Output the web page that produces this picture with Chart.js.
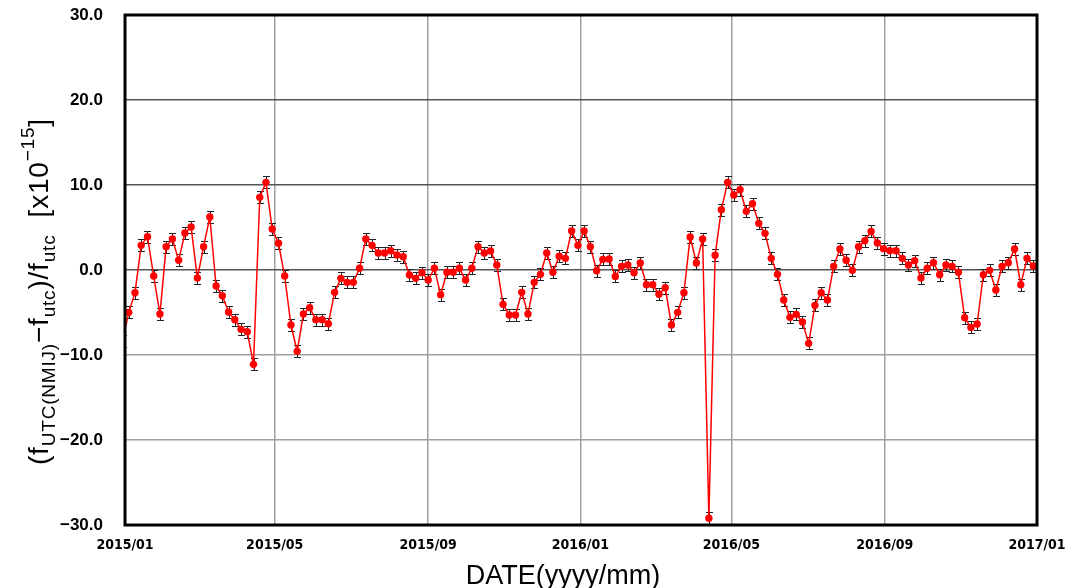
<!DOCTYPE html>
<html>
<head>
<meta charset="utf-8">
<script src="https://cdn.jsdelivr.net/npm/chart.js@4.4.0/dist/chart.umd.min.js"></script>
<style>
  html, body { margin: 0; padding: 0; background: #fff; }
</style>
</head>
<body>
<canvas id="myChart" width="1067" height="588"></canvas>
<script>
// sampling dates (MJD), five-day steps
const mjd = [
  57021,
  57026, 57031, 57036, 57041, 57046, 57051, 57056, 57061, 57066, 57071,
  57076, 57081, 57086, 57091, 57096, 57101, 57106, 57111, 57116, 57121,
  57126, 57131, 57136, 57141, 57146, 57151, 57156, 57161, 57166, 57171,
  57176, 57181, 57186, 57191, 57196, 57201, 57206, 57211, 57216, 57221,
  57226, 57231, 57236, 57241, 57246, 57251, 57256, 57261, 57266, 57271,
  57276, 57281, 57286, 57291, 57296, 57301, 57306, 57311, 57316, 57321,
  57326, 57331, 57336, 57341, 57346, 57351, 57356, 57361, 57366, 57371,
  57376, 57381, 57386, 57391, 57396, 57401, 57406, 57411, 57416, 57421,
  57426, 57431, 57436, 57441, 57446, 57451, 57456, 57461, 57466, 57471,
  57476, 57481, 57486, 57491, 57496, 57501, 57506, 57511, 57516, 57521,
  57526, 57531, 57536, 57541, 57546, 57551, 57556, 57561, 57566, 57571,
  57576, 57581, 57586, 57591, 57596, 57601, 57606, 57611, 57616, 57621,
  57626, 57631, 57636, 57641, 57646, 57651, 57656, 57661, 57666, 57671,
  57676, 57681, 57686, 57691, 57696, 57701, 57706, 57711, 57716, 57721,
  57726, 57731, 57736, 57741, 57746, 57751, 57756
]

// (f_UTC(NMIJ) - f_utc)/f_utc, x1e-15
const offset = [
  -8.4,
  -4.98, -2.67, 2.90, 3.92, -0.71, -5.18, 2.75, 3.65, 1.14, 4.35,
  5.06, -0.94, 2.75, 6.24, -1.88, -3.02, -4.94, -5.84, -6.98, -7.25,
  -11.1, 8.55, 10.31, 4.82, 3.14, -0.71, -6.47, -9.57, -5.18, -4.43,
  -5.84, -5.84, -6.31, -2.63, -0.98, -1.45, -1.45, 0.20, 3.65, 2.90,
  2.0, 2.0, 2.27, 1.76, 1.57, -0.59, -0.98, -0.31, -1.18, 0.20,
  -2.90, -0.27, -0.27, 0.20, -1.18, 0.20, 2.75, 2.0, 2.24, 0.59,
  -4.04, -5.29, -5.29, -2.63, -5.18, -1.45, -0.51, 2.0, -0.27, 1.61,
  1.37, 4.59, 2.90, 4.59, 2.75, -0.08, 1.25, 1.29, -0.75, 0.43,
  0.59, -0.31, 0.82, -1.73, -1.73, -2.86, -2.08, -6.47, -4.98, -2.67,
  3.88, 0.82, 3.65, -29.2, 1.73, 7.10, 10.31, 8.82, 9.45, 6.90,
  7.80, 5.49, 4.31, 1.37, -0.51, -3.53, -5.57, -5.22, -6.12, -8.63,
  -4.16, -2.67, -3.53, 0.43, 2.47, 1.14, -0.04, 2.75, 3.45, 4.55,
  3.18, 2.51, 2.27, 2.27, 1.37, 0.59, 1.10, -0.94, 0.20, 0.86,
  -0.55, 0.59, 0.43, -0.27, -5.61, -6.75, -6.35, -0.55, -0.04, -2.35,
  0.43, 0.86, 2.47, -1.73, 1.37, 0.47, 0.94
]

const uncertainty = 0.7

const tickMJD = [57023, 57143, 57266, 57388, 57509, 57632, 57754]
const tickLabels = ['2015/01', '2015/05', '2015/09', '2016/01', '2016/05', '2016/09', '2017/01']
const yTicks = [-30, -20, -10, 0, 10, 20, 30]

const errorBars = {
  id: 'errorBars',
  beforeDatasetsDraw(chart) {
    const { ctx, chartArea, scales } = chart
    ctx.save()
    ctx.beginPath()
    ctx.rect(chartArea.left, chartArea.top, chartArea.right - chartArea.left, chartArea.bottom - chartArea.top)
    ctx.clip()
    ctx.strokeStyle = '#222'
    ctx.lineWidth = 1
    mjd.forEach((m, i) => {
      const x = Math.round(scales.x.getPixelForValue(m)) + 0.5
      const y1 = Math.round(scales.y.getPixelForValue(offset[i] + uncertainty)) + 0.5
      const y2 = Math.round(scales.y.getPixelForValue(offset[i] - uncertainty)) + 0.5
      ctx.beginPath()
      ctx.moveTo(x, y1); ctx.lineTo(x, y2)
      ctx.moveTo(x - 3.5, y1); ctx.lineTo(x + 3.5, y1)
      ctx.moveTo(x - 3.5, y2); ctx.lineTo(x + 3.5, y2)
      ctx.stroke()
    })
    ctx.restore()
  }
}

function drawYTitle(ctx) {
  const parts = [
    ['(f', 'main'], ['UTC(NMIJ)', 'sub'], ['\u2212f', 'main'], ['utc', 'sub'],
    [')/f', 'main'], ['utc', 'sub'], ['  [x10', 'main'], ['\u221215', 'sup'], [']', 'main']
  ]
  ctx.save()
  ctx.translate(48, 465)
  ctx.rotate(-Math.PI / 2)
  ctx.fillStyle = '#000'
  ctx.textBaseline = 'alphabetic'
  ctx.textAlign = 'left'
  ctx.letterSpacing = '0.8px'
  let x = 0
  for (const [t, k] of parts) {
    ctx.font = k === 'main' ? '28px "Liberation Sans"' : '19px "Liberation Sans"'
    const dy = k === 'sub' ? 7 : k === 'sup' ? -14 : 0
    ctx.fillText(t, x, dy)
    x += ctx.measureText(t).width
  }
  ctx.restore()
}

const frame = {
  id: 'frame',
  afterDraw(chart) {
    const { ctx, chartArea } = chart
    ctx.save()
    ctx.strokeStyle = '#000'
    ctx.lineWidth = 3
    ctx.strokeRect(chartArea.left, chartArea.top, chartArea.right - chartArea.left, chartArea.bottom - chartArea.top)
    ctx.fillStyle = '#000'
    ctx.font = '27px "Liberation Sans"'
    ctx.textAlign = 'center'
    ctx.textBaseline = 'middle'
    ctx.fillText('DATE(yyyy/mm)', 563, 577)
    drawYTitle(ctx)
    ctx.restore()
  }
}

const ctx = document.getElementById('myChart').getContext('2d')
const myChart = new Chart(ctx, {
  type: 'line',
  data: {
    datasets: [{
      data: mjd.map((m, i) => ({ x: m, y: offset[i] })),
      borderColor: '#ff0000',
      backgroundColor: '#ff0000',
      borderWidth: 1.5,
      pointRadius: 3.7,
      pointBorderWidth: 0,
      pointBackgroundColor: '#ff0000',
      tension: 0,
      clip: 0
    }]
  },
  options: {
    responsive: false,
    animation: false,
    layout: { padding: { top: 15, right: 30, left: 0, bottom: 0 } },
    scales: {
      x: {
        type: 'linear',
        min: 57023,
        max: 57754,
        afterBuildTicks: s => { s.ticks = tickMJD.map(v => ({ value: v })) },
        afterFit: s => { s.height = 63 },
        ticks: {
          callback: (v, i) => tickLabels[i],
          autoSkip: false,
          maxRotation: 0,
          padding: 0,
          color: '#000',
          font: { family: '"DejaVu Sans Condensed", "Liberation Sans Narrow", sans-serif', size: 14, weight: 'bold' }
        },
        grid: { color: '#a0a0a0', lineWidth: 1.5, drawTicks: true, tickLength: 12, tickColor: 'rgba(0,0,0,0)' },
        border: { display: false }
      },
      y: {
        min: -30,
        max: 30,
        afterBuildTicks: s => { s.ticks = yTicks.map(v => ({ value: v })) },
        afterFit: s => { s.width = 125 },
        ticks: {
          callback: v => (v < 0 ? '\u2212' : '') + Math.abs(v).toFixed(1),
          padding: 0,
          color: '#000',
          font: { family: '"Liberation Sans", Arial, sans-serif', size: 17, weight: 'bold' }
        },
        grid: {
          color: c => c.tick && c.tick.value >= 0 ? '#555' : '#a0a0a0',
          lineWidth: 1.5,
          drawTicks: true,
          tickLength: 22,
          tickColor: 'rgba(0,0,0,0)'
        },
        border: { display: false }
      }
    },
    plugins: {
      legend: { display: false },
      tooltip: { enabled: false }
    }
  },
  plugins: [errorBars, frame]
})
</script>
</body>
</html>
